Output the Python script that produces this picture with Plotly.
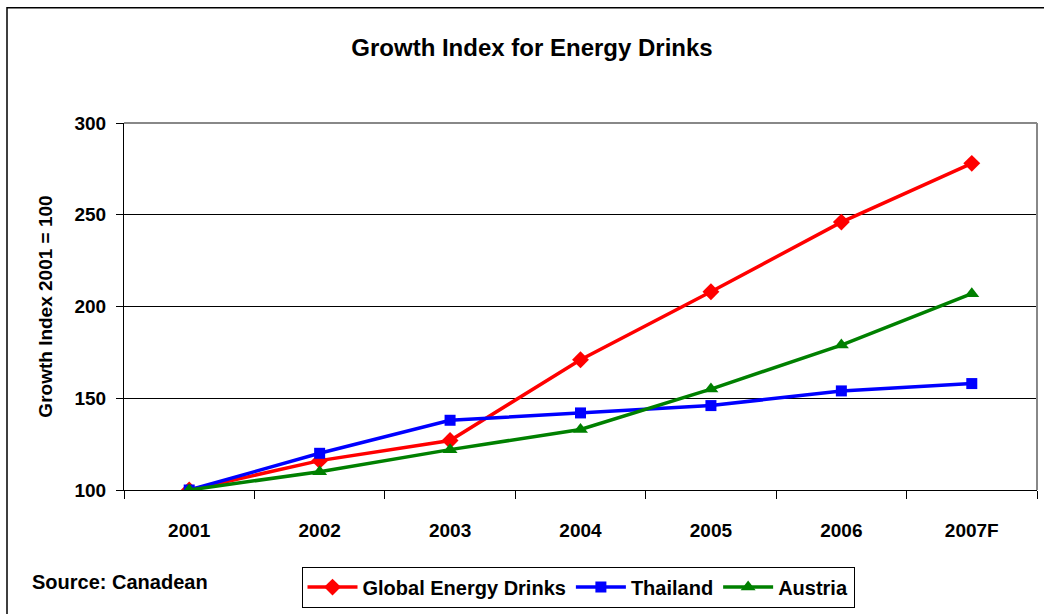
import plotly.graph_objects as go

years = ["2001", "2002", "2003", "2004", "2005", "2006", "2007F"]
global_drinks = [100, 116, 127, 171, 208, 246, 278]
thailand = [100, 120, 138, 142, 146, 154, 158]
austria = [100, 110, 122, 133, 155, 179, 207]

FONT = "Liberation Sans, Arial, sans-serif"

fig = go.Figure()
fig.add_trace(go.Scatter(x=years, y=global_drinks, name="<b>Global Energy Drinks</b>", mode="lines+markers",
                         line=dict(color="#ff0000", width=3.5),
                         marker=dict(symbol="diamond", size=13, color="#ff0000")))
fig.add_trace(go.Scatter(x=years, y=thailand, name="<b>Thailand</b>", mode="lines+markers",
                         line=dict(color="#0000ff", width=3.5),
                         marker=dict(symbol="square", size=11, color="#0000ff")))
fig.add_trace(go.Scatter(x=years, y=austria, name="<b>Austria</b>", mode="lines+markers",
                         line=dict(color="#008000", width=3.5),
                         marker=dict(symbol="triangle-up", size=13, color="#008000")))

W, H = 1044, 614
L, R, T, B = 124, 7, 123, 122
pw, ph = W - L - R, H - T - B

def px(x):
    return (x - L) / pw

def py(y):
    return (H - B - y) / ph

fig.update_layout(
    width=W, height=H,
    margin=dict(l=L, r=R, t=T, b=B),
    paper_bgcolor="white", plot_bgcolor="white",
    font=dict(family=FONT, size=18, color="black"),
    title=dict(text="<b>Growth Index for Energy Drinks</b>", x=532 / W, xanchor="center", xref="container",
               y=1 - 48 / H, yanchor="middle", font=dict(size=24, family=FONT)),
    xaxis=dict(type="category", showgrid=False, showline=True, linecolor="black", linewidth=1,
               ticks="outside", tickson="boundaries", ticklen=8, tickcolor="black",
               tickfont=dict(size=19, family=FONT), tickprefix="<b>", ticksuffix="</b>",
               ticklabelstandoff=23, range=[-0.5, 6.5], zeroline=False),
    yaxis=dict(range=[100, 300], dtick=50, showgrid=True, gridcolor="black", gridwidth=1,
               showline=True, linecolor="black", linewidth=1, ticks="outside", ticklen=7,
               tickcolor="black", tickfont=dict(size=19, family=FONT),
               tickprefix="<b>", ticksuffix="</b>", zeroline=False, ticklabelstandoff=6,
               title=dict(text="<b>Growth Index 2001 = 100</b>", font=dict(size=19, family=FONT), standoff=16)),
    legend=dict(orientation="h", x=px(578), xanchor="center", y=py(569), yanchor="top",
                bordercolor="black", borderwidth=1, font=dict(size=20, family=FONT),
                itemwidth=50, tracegroupgap=0),
    showlegend=True,
)

fig.add_annotation(text="<b>Source: Canadean</b>", xref="paper", yref="paper",
                   x=px(30), y=py(585), xanchor="left", yanchor="middle", showarrow=False,
                   font=dict(size=20, family=FONT))

# plot-area border (top/right in gray)
fig.add_shape(type="line", xref="paper", yref="paper", x0=0, x1=1, y0=1, y1=1,
              line=dict(color="#888888", width=2))
fig.add_shape(type="line", xref="paper", yref="paper", x0=1, x1=1, y0=0, y1=1,
              line=dict(color="#888888", width=2))
# outer chart border
fig.add_shape(type="rect", xref="paper", yref="paper", x0=px(7), x1=px(1050), y0=py(7), y1=py(620),
              line=dict(color="black", width=1.5), layer="below")

fig.write_html("out.html")
